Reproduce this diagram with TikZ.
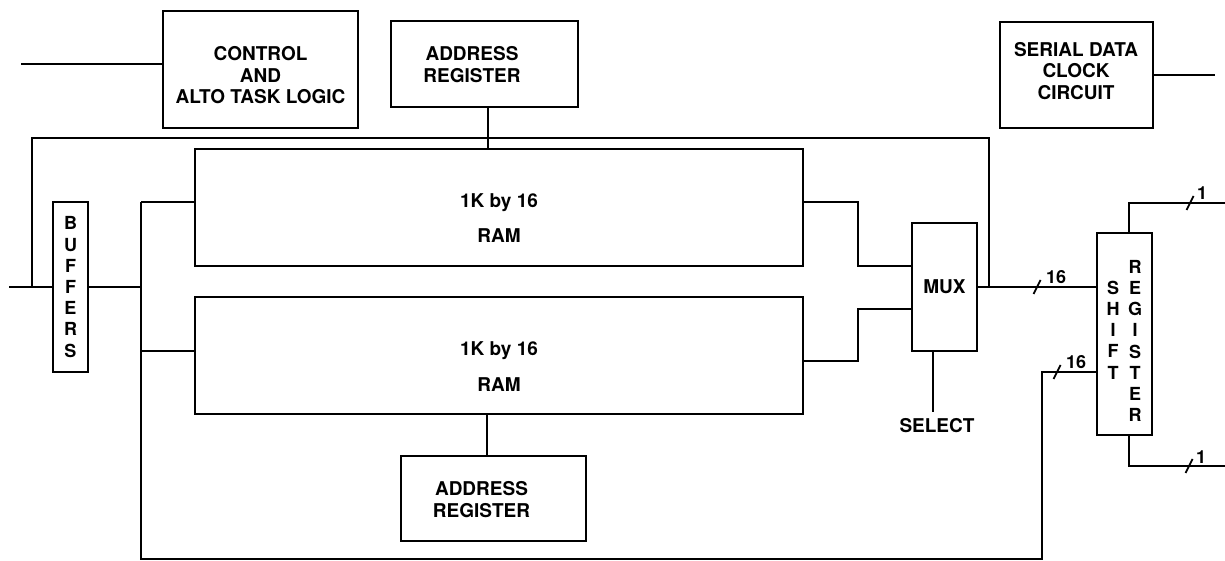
\documentclass[tikz,border=0pt]{standalone}
\usepackage{fontspec}
\setmainfont{TeX Gyre Heros}
\begin{document}
\begin{tikzpicture}[x=1pt,y=-1pt]
\tikzset{
  box/.style={draw, line width=2.4pt, inner sep=0pt},
  wire/.style={line width=2.2pt},
  txt/.style={font=\bfseries\fontsize{19}{21.5}\selectfont, align=center, inner sep=0pt},
  stack/.style={font=\bfseries\fontsize{18}{21.2}\selectfont, align=center, inner sep=0pt},
  lbl/.style={font=\bfseries\fontsize{18}{18}\selectfont, inner sep=0pt},
  slash/.style={line width=1.8pt}
}
\useasboundingbox (0,0) rectangle (1225,561);
% boxes
\node[box, minimum width=195pt, minimum height=117pt] (ctrl) at (260.5,69.5) {};
\node[txt] (ctrlT) at (260.5,75.5) {CONTROL\\AND\\ALTO TASK LOGIC};
\node[box, minimum width=187pt, minimum height=86pt] (addrT) at (484.5,64) {};
\node[txt] (addrTt) at (472,64.5) {ADDRESS\\REGISTER};
\node[box, minimum width=153pt, minimum height=106pt] (ser) at (1076.5,75) {};
\node[txt] (serT) at (1076,71) {SERIAL DATA\\CLOCK\\CIRCUIT};
\node[box, stack, minimum width=35pt, minimum height=170pt] (buf) at (70.5,287) {B\\U\\F\\F\\E\\R\\S};
\node[box, minimum width=608pt, minimum height=117pt] (ram1) at (499,207.5) {};
\node[txt] (ram1T) at (499,218) {1K by 16\\[14pt]RAM};
\node[box, minimum width=608pt, minimum height=117pt] (ram2) at (499,355.5) {};
\node[txt] (ram2T) at (499,366.5) {1K by 16\\[14pt]RAM};
\node[box, txt, minimum width=65pt, minimum height=128pt] (mux) at (944.5,287) {MUX};
\node[box, minimum width=55pt, minimum height=202pt] (sr) at (1124.5,334) {};
\node[stack] (srA) at (1113,330) {S\\H\\I\\F\\T};
\node[stack] (srB) at (1135,341) {R\\E\\G\\I\\S\\T\\E\\R};
\node[box, minimum width=185pt, minimum height=85pt] (addrB) at (493.5,498.5) {};
\node[txt] (addrBt) at (481.5,499.5) {ADDRESS\\REGISTER};
\node[txt, inner ysep=7pt] (sel) at (937,426) {SELECT};
% coordinates
\coordinate (ctrlIn) at (21,64);
\coordinate (serOut) at (1215,75);
\coordinate (bufIn) at (9,287);
\coordinate (jL) at (32,287);
\coordinate (tl) at (32,138);
\coordinate (tr) at (989,138);
\coordinate (jR) at (989,287);
\coordinate (busT) at (141,202);
\coordinate (busM) at (141,287);
\coordinate (busB) at (141,351);
\coordinate (busE) at (141,559);
\coordinate (bbR) at (1042,559);
\coordinate (bbT) at (1042,372);
\coordinate (r1o) at (858,202);
\coordinate (r1d) at (858,266);
\coordinate (r2o) at (858,361);
\coordinate (r2u) at (858,309);
\coordinate (t1) at (1129,203);
\coordinate (o1) at (1225,203);
\coordinate (t2) at (1129,466);
\coordinate (o2) at (1225,466);
\coordinate (s1) at (1037,287);
\coordinate (s2) at (1057,372);
\coordinate (s3) at (1190,203);
\coordinate (s4) at (1189,466);
% wires
\draw[wire] (ctrlIn) -- (ctrlIn -| ctrl.west);
\draw[wire] (ser.east) -- (serOut);
\draw[wire] ([xshift=3.5pt]addrT.south) -- ([xshift=3.5pt]addrT.south |- ram1.north);
\draw[wire] ([xshift=-6.5pt]addrB.north |- ram2.south) -- ([xshift=-6.5pt]addrB.north);
\draw[wire] (bufIn) -- (buf.west);
\draw[wire] (jL) -- (tl) -- (tr) -- (jR);
\draw[wire] (buf.east) -- (busM);
\draw[wire] (busT) -- (busE) -- (bbR) -- (bbT) -- (bbT -| sr.west);
\draw[wire] (busT) -- (busT -| ram1.west);
\draw[wire] (busB) -- (busB -| ram2.west);
\draw[wire] (r1o -| ram1.east) -- (r1o) -- (r1d) -- (r1d -| mux.west);
\draw[wire] (r2o -| ram2.east) -- (r2o) -- (r2u) -- (r2u -| mux.west);
\draw[wire] (mux.east) -- (mux.east -| sr.west);
\draw[wire] ([xshift=-11.5pt]mux.south) -- ([xshift=-11.5pt]mux.south |- sel.north);
\draw[wire] ([xshift=4.5pt]sr.north) -- (t1) -- (o1);
\draw[wire] ([xshift=4.5pt]sr.south) -- (t2) -- (o2);
% bus-width slashes and labels
\foreach \s in {s1,s2,s3,s4}
  \draw[slash] ([shift={(-3.5pt,-7pt)}]\s) -- ([shift={(3.5pt,7pt)}]\s);
\node[lbl] (l1) at (1056,277) {16};
\node[lbl] (l2) at (1076,362) {16};
\node[lbl] (l3) at (1202,193) {1};
\node[lbl] (l4) at (1201,457) {1};
\end{tikzpicture}
\end{document}
